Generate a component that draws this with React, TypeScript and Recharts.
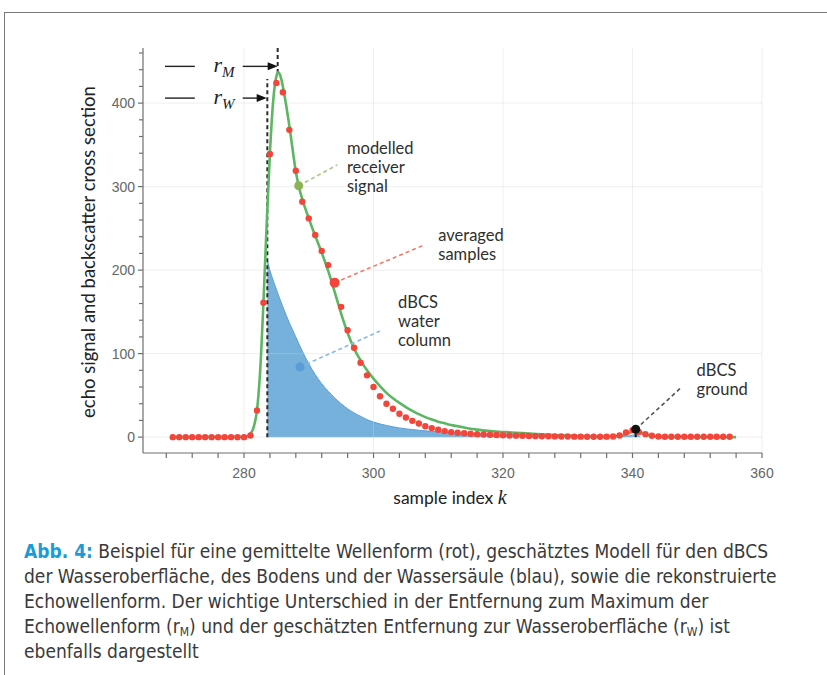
import React from 'react';
import {
  ComposedChart,
  XAxis,
  YAxis,
  Line,
  Area,
  Scatter,
  ReferenceLine,
  ReferenceDot,
} from 'recharts';

// averaged samples (red dots), one per sample index starting at 269
const firstSample = 269;
const averagedSamples = [
  0, 0, 0, 0, 0, 0, 0, 0, 0, 0, 0, 0,
  2, 32, 161, 339, 424, 413, 368, 319, 282, 262, 242, 223, 206, 185, 156, 128, 107, 89,
  74, 60, 49, 40, 34, 28, 23.5, 19.5, 16.4, 13, 10.8, 8.8, 7.2, 6, 5.2, 4.6, 4, 3.6,
  3.2, 2.8, 2.5, 2.2, 2, 1.8, 1.6, 1.4, 1.2, 1.1, 1, 0.9, 0.8, 0.7, 0.6, 0.6, 0.5, 0.5,
  0.5, 0.6, 0.8, 2, 5.6, 8.4, 6, 3.6, 1.6, 0.8,
  0.5, 0.5, 0.5, 0.5, 0.5, 0.5, 0.5, 0.5, 0.5, 0.5, 0.5,
];

// modelled receiver signal (green)
const modelK = [
  269, 280, 280.5, 281, 281.5, 282, 282.5, 283, 283.5, 284, 284.5, 285, 285.3, 285.6, 286,
  286.5, 287, 287.5, 288, 288.5, 289, 290, 291, 292, 293, 294, 295, 296, 297, 298, 299, 300,
  301, 302, 303, 304, 305, 306, 307, 308, 309, 310, 311, 312, 313, 314, 315, 316, 318, 320,
  322, 324, 326, 328, 330, 332, 335, 338, 339, 340, 340.5, 341, 342, 343, 345, 350, 356,
];
const modelSignal = [
  0, 0.5, 1, 4, 12, 32, 80, 161, 255, 340, 402, 432, 437, 433, 420,
  398, 373, 345, 318, 299, 285, 262, 241, 221, 199, 174, 148, 125, 106, 92, 80, 70,
  61, 53, 46.5, 41, 36, 31.5, 27.5, 24, 21, 18.5, 16.5, 14.5, 13, 11.5, 10, 9, 7.2, 6.2,
  5.2, 4.4, 3.4, 2.5, 1.8, 1.2, 0.8, 1.2, 3.5, 6.5, 7.2, 6.5, 3.5, 1.2, 0.4, 0.2, 0,
];

// dBCS of the water column (blue)
const waterK = [
  283.6, 284, 285, 286, 287, 288, 289, 290, 291, 292, 293, 294, 295, 296, 297, 298, 299,
  300, 302, 304, 306, 308, 310, 312, 316, 320, 325, 330, 335, 338, 339.5, 340.5, 341.2,
];
const waterDbcs = [
  212, 200, 177, 156, 137, 120, 103, 88, 75, 64, 55, 47, 40, 34, 29, 25, 21,
  18, 14, 11, 9, 7.5, 6.5, 5.5, 4.2, 3.3, 2.4, 1.6, 1, 0.6, 1.5, 3, 0,
];

const xTicks = [268, 272, 276, 280, 284, 288, 292, 296, 300, 304, 308, 312, 316, 320, 324, 328, 332, 336, 340, 344, 348, 352, 356, 360];
const xMajor = [280, 300, 320, 340, 360];
const yTicks = [0, 20, 40, 60, 80, 100, 120, 140, 160, 180, 200, 220, 240, 260, 280, 300, 320, 340, 360, 380, 400, 420, 440, 460];
const yMajor = [0, 100, 200, 300, 400];

const samples = averagedSamples.map((v, i) => ({ k: firstSample + i, v }));
const model = modelK.map((k, i) => ({ k, v: modelSignal[i] }));
const water = waterK.map((k, i) => ({ k, v: waterDbcs[i] }));

const tickFont = 'Liberation Sans, Arial, sans-serif';
const noteFont = 'Lato, "Open Sans", sans-serif';

const XTick = (props: any) => {
  const { x, y, payload } = props;
  const major = payload.value % 20 === 0;
  return (
    <g>
      <line x1={x} y1={y} x2={x} y2={y + 5} stroke="#6f6f6f" strokeWidth={1.2} />
      {major && (
        <text x={x} y={y + 20} textAnchor="middle" dominantBaseline="central" fontFamily={tickFont} fontSize={14} fill="#666">
          {payload.value}
        </text>
      )}
    </g>
  );
};

const YTick = (props: any) => {
  const { x, y, payload } = props;
  const major = payload.value % 100 === 0;
  return (
    <g>
      <line x1={x} y1={y} x2={x - (major ? 5 : 4)} y2={y} stroke="#6f6f6f" strokeWidth={1.2} />
      {major && (
        <text x={x - 8} y={y} textAnchor="end" dominantBaseline="central" fontFamily={tickFont} fontSize={14} fill="#666">
          {payload.value}
        </text>
      )}
    </g>
  );
};

const note = (lines: string[]) => (p: any) => (
  <text x={p.cx} y={p.cy} fontFamily={noteFont} fontSize={16.5} fill="#2f2f2f">
    {lines.map((t, i) => (
      <tspan key={t} x={p.cx} dy={i === 0 ? 6 : 19}>
        {t}
      </tspan>
    ))}
  </text>
);

const rLabel = (sub: string) => (p: any) => (
  <text x={p.cx} y={p.cy + 6} textAnchor="middle" fontFamily='"Liberation Serif", serif' fontStyle="italic" fontSize={22} fill="#222">
    r<tspan fontSize={15} dy={5}>{sub}</tspan>
  </text>
);

const arrow = (p: any) => {
  const { x1, y1, x2, y2 } = p;
  return (
    <g>
      <line x1={x1} y1={y1} x2={x2 - 8} y2={y2} stroke="#222" strokeWidth={1.4} />
      <polygon points={`${x2},${y2} ${x2 - 10},${y2 - 4} ${x2 - 10},${y2 + 4}`} fill="#111" />
    </g>
  );
};

const Chart = () => (
  <ComposedChart width={827} height={675} margin={{ top: 48, right: 65, bottom: 192, left: 83 }}>
    <XAxis
      type="number"
      dataKey="k"
      domain={[264.4, 360]}
      ticks={xTicks}
      interval={0}
      allowDataOverflow
      tickLine={false}
      tickSize={0}
      tickMargin={0}
      height={30}
      axisLine={{ stroke: '#6f6f6f', strokeWidth: 1.2 }}
      tick={<XTick />}
    />
    <YAxis
      type="number"
      domain={[-19, 466]}
      ticks={yTicks}
      interval={0}
      allowDataOverflow
      tickLine={false}
      tickSize={0}
      tickMargin={0}
      width={60}
      axisLine={{ stroke: '#6f6f6f', strokeWidth: 1.2 }}
      tick={<YTick />}
    />
    {xMajor.map((v) => (
      <ReferenceLine key={'gx' + v} x={v} stroke="#d0d0d0" strokeOpacity={0.35} strokeWidth={1} />
    ))}
    {yMajor.map((v) => (
      <ReferenceLine key={'gy' + v} y={v} stroke="#d0d0d0" strokeOpacity={0.35} strokeWidth={1} />
    ))}
    <Area
      data={water}
      dataKey="v"
      type="monotone"
      baseValue={0}
      fill="#76b1dc"
      fillOpacity={1}
      stroke="#5c9fd6"
      strokeWidth={1}
      isAnimationActive={false}
    />
    <ReferenceLine segment={[{ x: 283.6, y: 0 }, { x: 283.6, y: 429 }]} stroke="#2b2b2b" strokeWidth={2} strokeDasharray="4 3" ifOverflow="visible" />
    <ReferenceLine segment={[{ x: 285.2, y: 436 }, { x: 285.2, y: 466 }]} stroke="#2b2b2b" strokeWidth={2} strokeDasharray="4 3" ifOverflow="visible" />
    <Line data={model} dataKey="v" type="monotone" stroke="#5db662" strokeWidth={2.6} dot={false} isAnimationActive={false} />
    <Scatter
      data={samples}
      dataKey="v"
      isAnimationActive={false}
      shape={(p: any) => <circle cx={p.cx} cy={p.cy} r={3.2} fill="#f3453a" />}
    />

    {/* leader lines for the notes */}
    <ReferenceLine segment={[{ x: 288.45, y: 301 }, { x: 294.4, y: 326 }]} stroke="#a7c88a" strokeWidth={1.6} strokeDasharray="4 3" ifOverflow="visible" />
    <ReferenceLine segment={[{ x: 294, y: 185 }, { x: 307.8, y: 230 }]} stroke="#f47a6c" strokeWidth={1.6} strokeDasharray="4 3" ifOverflow="visible" />
    <ReferenceLine segment={[{ x: 288.65, y: 84 }, { x: 301, y: 127 }]} stroke="#8ab7e4" strokeWidth={1.6} strokeDasharray="4 3" ifOverflow="visible" />
    <ReferenceLine segment={[{ x: 340.5, y: 9.5 }, { x: 347.6, y: 60 }]} stroke="#555" strokeWidth={1.6} strokeDasharray="4 3" ifOverflow="visible" />
    <ReferenceLine segment={[{ x: 340.5, y: 0 }, { x: 340.5, y: 9.5 }]} stroke="#111" strokeWidth={2} ifOverflow="visible" />

    <ReferenceDot x={288.45} y={301} r={4.5} fill="#8db256" stroke="none" ifOverflow="visible" />
    <ReferenceDot x={294} y={185} r={5} fill="#f3453a" stroke="none" ifOverflow="visible" />
    <ReferenceDot x={288.65} y={84} r={4.5} fill="#5c9bd8" stroke="none" ifOverflow="visible" />
    <ReferenceDot x={340.5} y={9.5} r={4.5} fill="#111" stroke="none" ifOverflow="visible" />

    <ReferenceDot x={295.9} y={346} r={0} ifOverflow="visible" shape={note(['modelled', 'receiver', 'signal'])} />
    <ReferenceDot x={310} y={242} r={0} ifOverflow="visible" shape={note(['averaged', 'samples'])} />
    <ReferenceDot x={303.8} y={162} r={0} ifOverflow="visible" shape={note(['dBCS', 'water', 'column'])} />
    <ReferenceDot x={349.9} y={80} r={0} ifOverflow="visible" shape={note(['dBCS', 'ground'])} />

    {/* r_M and r_W markers */}
    <ReferenceLine segment={[{ x: 267.8, y: 444 }, { x: 272.4, y: 444 }]} stroke="#222" strokeWidth={1.4} ifOverflow="visible" />
    <ReferenceLine segment={[{ x: 279.8, y: 444 }, { x: 285.2, y: 444 }]} ifOverflow="visible" shape={arrow} />
    <ReferenceDot x={276.9} y={444} r={0} ifOverflow="visible" shape={rLabel('M')} />
    <ReferenceLine segment={[{ x: 267.8, y: 406 }, { x: 272.4, y: 406 }]} stroke="#222" strokeWidth={1.4} ifOverflow="visible" />
    <ReferenceLine segment={[{ x: 279.8, y: 406 }, { x: 283.5, y: 406 }]} ifOverflow="visible" shape={arrow} />
    <ReferenceDot x={276.9} y={406} r={0} ifOverflow="visible" shape={rLabel('W')} />
  </ComposedChart>
);

const captionLines = [
  'Beispiel für eine gemittelte Wellenform (rot), geschätztes Modell für den dBCS',
  'der Wasseroberfläche, des Bodens und der Wassersäule (blau), sowie die rekonstruierte',
  'Echowellenform. Der wichtige Unterschied in der Entfernung zum Maximum der',
];

const subStyle: React.CSSProperties = { fontSize: 12, verticalAlign: '-3px', lineHeight: 0 };

export default function App() {
  const capStyle: React.CSSProperties = {
    position: 'absolute',
    left: 24,
    whiteSpace: 'nowrap',
    fontFamily: '"Liberation Sans Narrow", "DejaVu Sans Condensed", sans-serif',
    fontSize: 19,
    color: '#3a3a3a',
    lineHeight: '22px',
  };
  return (
    <div style={{ position: 'absolute', left: 0, top: 0, width: 827, height: 675, overflow: 'hidden', background: '#fff' }}>
      <div style={{ position: 'absolute', left: 4, top: 12, width: 900, height: 700, borderTop: '1.5px solid #7a7a7a', borderLeft: '1.5px solid #7a7a7a' }} />
      <Chart />
      <div
        style={{
          position: 'absolute',
          left: 88,
          top: 252,
          transform: 'translate(-50%, -50%) rotate(-90deg)',
          whiteSpace: 'nowrap',
          fontFamily: noteFont,
          fontSize: 18.5,
          color: '#222',
        }}
      >
        echo signal and backscatter cross section
      </div>
      <div
        style={{
          position: 'absolute',
          left: 450,
          top: 497,
          transform: 'translate(-50%, -50%)',
          whiteSpace: 'nowrap',
          fontFamily: noteFont,
          fontSize: 17.5,
          color: '#222',
        }}
      >
        sample index <span style={{ fontFamily: '"Liberation Serif", serif', fontStyle: 'italic', fontSize: 20 }}>k</span>
      </div>
      <div style={{ ...capStyle, top: 540 }}>
        <span style={{ color: '#1b9cd8', fontWeight: 'bold' }}>Abb. 4:</span> {captionLines[0]}
      </div>
      <div style={{ ...capStyle, top: 565 }}>{captionLines[1]}</div>
      <div style={{ ...capStyle, top: 590 }}>{captionLines[2]}</div>
      <div style={{ ...capStyle, top: 615 }}>
        Echowellenform (r<span style={subStyle}>M</span>) und der geschätzten Entfernung zur Wasseroberfläche (r
        <span style={subStyle}>W</span>) ist
      </div>
      <div style={{ ...capStyle, top: 640 }}>ebenfalls dargestellt</div>
    </div>
  );
}
